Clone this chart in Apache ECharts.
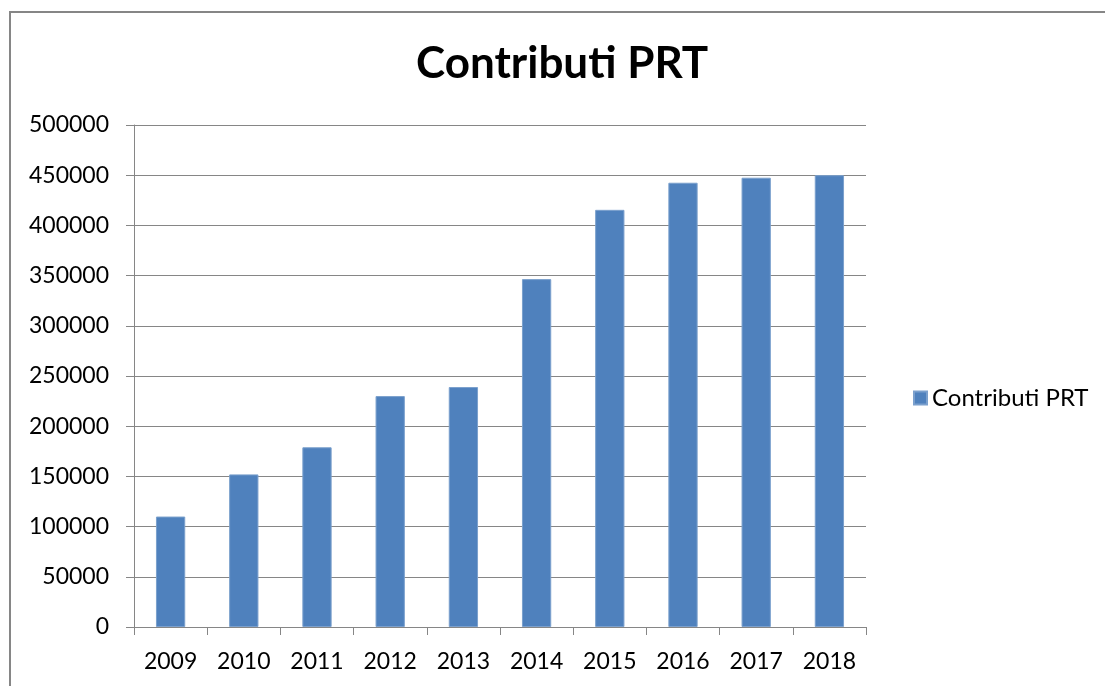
<!DOCTYPE html>
<html>
<head>
<meta charset="utf-8">
<script src="https://cdn.jsdelivr.net/npm/echarts@6/dist/echarts.min.js"></script>
<style>
  html, body { margin: 0; padding: 0; background: #fff; }
  #viz { width: 1105px; height: 686px; }
</style>
</head>
<body>
<div id="viz"></div>
<script>
const years = ['2009', '2010', '2011', '2012', '2013', '2014', '2015', '2016', '2017', '2018']
const contributi = [110000, 152000, 179000, 230000, 239000, 346500, 415500, 442500, 447500, 450000]
const seriesName = 'Contributi PRT'

const gray = '#868686'
const font = 'Lato, "Open Sans", sans-serif'

const myChart = echarts.init(document.getElementById('viz'))

myChart.setOption({
  animation: false,
  textStyle: { fontFamily: font },
  title: {
    text: 'Contributi PRT',
    left: 411,
    top: 37,
    textStyle: { fontFamily: font, fontSize: 44, fontWeight: 'bold', color: '#000' },
  },
  graphic: [
    {
      type: 'rect',
      shape: { x: 10, y: 12, width: 1200, height: 800 },
      style: { fill: 'none', stroke: gray, lineWidth: 2 },
      silent: true,
    },
  ],
  legend: {
    left: 908,
    top: 381,
    icon: 'rect',
    itemWidth: 13,
    itemHeight: 13,
    itemGap: 8,
    textStyle: { fontSize: 24, color: '#000' },
    data: [seriesName],
  },
  grid: { left: 134, right: 239, top: 125, bottom: 59 },
  xAxis: {
    type: 'category',
    data: years,
    axisLine: { lineStyle: { color: gray } },
    axisTick: { show: true, length: 8, lineStyle: { color: gray } },
    axisLabel: { fontSize: 23, color: '#000', margin: 23 },
  },
  yAxis: {
    type: 'value',
    min: 0,
    max: 500000,
    interval: 50000,
    axisLine: { show: true, lineStyle: { color: gray } },
    axisTick: { show: true, length: 8, lineStyle: { color: gray } },
    axisLabel: { fontSize: 23, color: '#000', margin: 25, formatter: (v) => String(v) },
    splitLine: { lineStyle: { color: gray } },
  },
  series: [
    {
      name: seriesName,
      type: 'bar',
      data: contributi,
      barWidth: '40%',
      itemStyle: { color: '#4F81BD', borderColor: '#7BA0CD', borderWidth: 1 },
    },
  ],
})
</script>
</body>
</html>
